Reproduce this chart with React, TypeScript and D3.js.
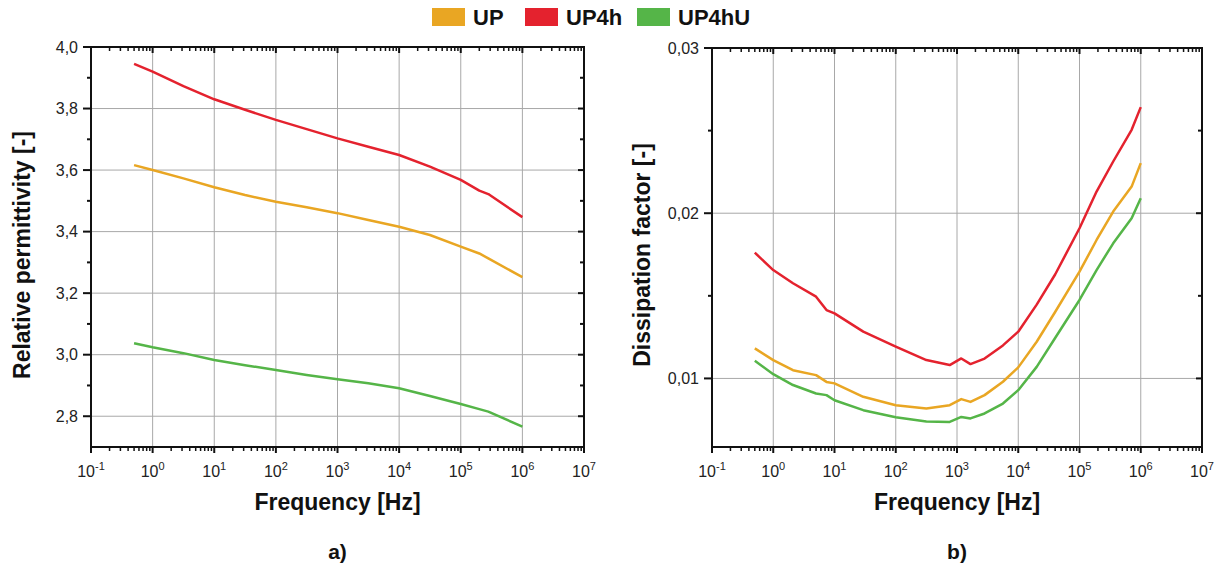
import * as d3 from "d3";

// legend / series
const seriesNames = ["UP", "UP4h", "UP4hU"];
const seriesColors = ["#e9a623", "#e4222e", "#55b548"];

// a) relative permittivity, frequency in Hz
const permFreq = [0.5, 1, 3.16, 10, 31.6, 100, 316, 1000, 3160, 10000, 31600, 100000, 200000, 280000, 1000000];
const permUP = [3.616, 3.6, 3.573, 3.544, 3.519, 3.497, 3.479, 3.46, 3.438, 3.416, 3.389, 3.351, 3.329, 3.313, 3.252];
const permUP4h = [3.945, 3.92, 3.873, 3.83, 3.796, 3.763, 3.733, 3.703, 3.676, 3.649, 3.611, 3.568, 3.533, 3.522, 3.447];
const permUP4hU = [3.037, 3.024, 3.005, 2.983, 2.966, 2.95, 2.934, 2.92, 2.907, 2.891, 2.866, 2.84, 2.823, 2.815, 2.766];

// b) dissipation factor
const dfFreq = [0.5, 1, 2.1, 5, 7.4, 10, 29.5, 100, 316, 760, 1175, 1660, 2820, 5620, 10000, 20000, 40000, 100000, 190000, 355000, 710000, 1000000];
const dfUP = [0.01182, 0.01111, 0.0105, 0.0102, 0.00979, 0.0097, 0.00889, 0.00838, 0.00818, 0.00838, 0.00875, 0.00858, 0.00899, 0.0098, 0.01067, 0.01222, 0.01402, 0.01646, 0.01838, 0.0201, 0.02161, 0.02303];
const dfUP4h = [0.01761, 0.01656, 0.01576, 0.01495, 0.01414, 0.01394, 0.01283, 0.01192, 0.01111, 0.01081, 0.01121, 0.01087, 0.0112, 0.012, 0.01283, 0.01447, 0.01629, 0.01909, 0.02131, 0.02313, 0.02505, 0.02642];
const dfUP4hU = [0.01107, 0.01026, 0.0096, 0.00909, 0.00899, 0.00868, 0.00808, 0.00765, 0.0074, 0.00737, 0.00767, 0.00758, 0.00788, 0.00848, 0.00929, 0.0107, 0.01245, 0.01475, 0.01656, 0.01818, 0.0197, 0.02091];

// axes
const xTickExps = [-1, 0, 1, 2, 3, 4, 5, 6, 7];
const permTicks = [2.8, 3.0, 3.2, 3.4, 3.6, 3.8, 4.0];
const permMinor = [2.9, 3.1, 3.3, 3.5, 3.7, 3.9];
const dfTicks = [0.01, 0.02, 0.03];
const dfMinor = [0.015, 0.025];

const FONT = "'Liberation Sans', Arial, Helvetica, sans-serif";

type PanelProps = {
  left: number;
  right: number;
  top: number;
  bottom: number;
  yDomain: [number, number];
  yTicks: number[];
  yMinor: number[];
  yFormat: (v: number) => string;
  freq: number[];
  series: number[][];
  yTitle: string;
  label: string;
  titleX: number;
};

function Panel(p: PanelProps) {
  const x = d3.scaleLog().domain([0.1, 1e7]).range([p.left, p.right]);
  const y = d3.scaleLinear().domain(p.yDomain).range([p.bottom, p.top]);

  const majors = xTickExps.map((e) => Math.pow(10, e));
  const minors: number[] = [];
  xTickExps.slice(0, -1).forEach((e) => {
    for (let k = 2; k <= 9; k++) minors.push(k * Math.pow(10, e));
  });

  const line = d3
    .line<number>()
    .x((_, i) => x(p.freq[i]))
    .y((v) => y(v));

  const midX = (p.left + p.right) / 2;
  const midY = 255;

  return (
    <g>
      {/* grid */}
      {majors.slice(1, -1).map((v) => (
        <line key={"gx" + v} x1={x(v)} x2={x(v)} y1={p.top} y2={p.bottom} stroke="#a8a8a8" strokeWidth={1} />
      ))}
      {p.yTicks.map((v) => (
        <line key={"gy" + v} x1={p.left} x2={p.right} y1={y(v)} y2={y(v)} stroke="#a8a8a8" strokeWidth={1} />
      ))}

      {/* data */}
      {p.series.map((s, i) => (
        <path key={"s" + i} d={line(s) || ""} fill="none" stroke={seriesColors[i]} strokeWidth={2.5} strokeLinejoin="round" />
      ))}

      {/* frame */}
      <rect x={p.left} y={p.top} width={p.right - p.left} height={p.bottom - p.top} fill="none" stroke="#111" strokeWidth={2} />

      {/* x ticks bottom (out) and top (in) */}
      {majors.map((v) => (
        <g key={"mx" + v}>
          <line x1={x(v)} x2={x(v)} y1={p.bottom} y2={p.bottom + 6} stroke="#111" strokeWidth={2} />
          <line x1={x(v)} x2={x(v)} y1={p.top} y2={p.top + 6} stroke="#111" strokeWidth={2} />
        </g>
      ))}
      {minors.map((v) => (
        <g key={"nx" + v}>
          <line x1={x(v)} x2={x(v)} y1={p.bottom} y2={p.bottom + 4} stroke="#111" strokeWidth={1.5} />
          <line x1={x(v)} x2={x(v)} y1={p.top} y2={p.top + 4} stroke="#111" strokeWidth={1.5} />
        </g>
      ))}

      {/* y ticks left (out) and right (in) */}
      {p.yTicks.map((v) => (
        <g key={"my" + v}>
          <line x1={p.left - 8} x2={p.left} y1={y(v)} y2={y(v)} stroke="#111" strokeWidth={2} />
          <line x1={p.right - 6} x2={p.right} y1={y(v)} y2={y(v)} stroke="#111" strokeWidth={2} />
        </g>
      ))}
      {p.yMinor.map((v) => (
        <g key={"ny" + v}>
          <line x1={p.left - 4} x2={p.left} y1={y(v)} y2={y(v)} stroke="#111" strokeWidth={2} />
          <line x1={p.right - 4} x2={p.right} y1={y(v)} y2={y(v)} stroke="#111" strokeWidth={2} />
        </g>
      ))}

      {/* tick labels */}
      {xTickExps.map((e) => (
        <text key={"lx" + e} x={x(Math.pow(10, e))} y={477} textAnchor="middle" fontSize={16} fill="#222" fontFamily={FONT}>
          <tspan>10</tspan>
          <tspan dy={-7} fontSize={11}>{e}</tspan>
        </text>
      ))}
      {p.yTicks.map((v) => (
        <text key={"ly" + v} x={p.left - 13} y={y(v) + 5.5} textAnchor="end" fontSize={16} fill="#222" fontFamily={FONT}>
          {p.yFormat(v)}
        </text>
      ))}

      {/* titles */}
      <text x={midX} y={510} textAnchor="middle" fontSize={23} fontWeight="bold" fill="#111" fontFamily={FONT}>
        Frequency [Hz]
      </text>
      <text
        transform={`translate(${p.titleX},${midY}) rotate(-90)`}
        textAnchor="middle"
        fontSize={23}
        fontWeight="bold"
        fill="#111"
        fontFamily={FONT}
      >
        {p.yTitle}
      </text>
      <text x={midX} y={559} textAnchor="middle" fontSize={21} fontWeight="bold" fill="#111" fontFamily={FONT}>
        {p.label}
      </text>
    </g>
  );
}

const legendX = [432, 525, 637];

export default function App() {
  const comma = (d: number) => (v: number) => v.toFixed(d).replace(".", ",");
  return (
    <svg width={1222} height={569} style={{ position: "absolute", left: 0, top: 0, background: "#fff" }}>
      {seriesNames.map((n, i) => (
        <g key={n}>
          <rect x={legendX[i]} y={8} width={33} height={18} fill={seriesColors[i]} />
          <text x={legendX[i] + 41} y={25} fontSize={22} fontWeight="bold" fill="#111" fontFamily={FONT}>
            {n}
          </text>
        </g>
      ))}
      <Panel
        left={91}
        right={584}
        top={47}
        bottom={447}
        yDomain={[2.7, 4.0]}
        yTicks={permTicks}
        yMinor={permMinor}
        yFormat={comma(1)}
        freq={permFreq}
        series={[permUP, permUP4h, permUP4hU]}
        yTitle="Relative permittivity [-]"
        label="a)"
        titleX={30}
      />
      <Panel
        left={712}
        right={1202}
        top={48}
        bottom={447}
        yDomain={[0.00585, 0.03]}
        yTicks={dfTicks}
        yMinor={dfMinor}
        yFormat={comma(2)}
        freq={dfFreq}
        series={[dfUP, dfUP4h, dfUP4hU]}
        yTitle="Dissipation factor [-]"
        label="b)"
        titleX={650}
      />
    </svg>
  );
}
